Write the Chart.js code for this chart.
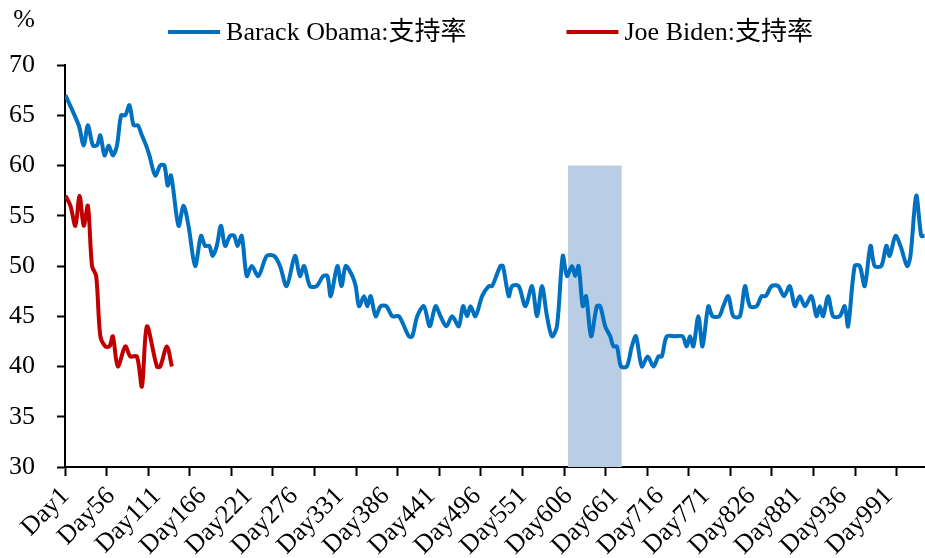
<!DOCTYPE html>
<html>
<head>
<meta charset="utf-8">
<script src="https://cdn.jsdelivr.net/npm/chart.js@4"></script>
<style>
  html, body { margin: 0; padding: 0; background: #fff; }
  #wrap { width: 925px; height: 558px; position: relative; }
</style>
</head>
<body>
<div id="wrap"><canvas id="approvalChart"></canvas></div>
<script>
// days since inauguration + approval (%)
const obamaDays = [1, 17, 23, 28, 34, 39, 43, 48, 53, 58, 63, 68, 73, 78, 83, 88, 93, 98, 102, 109,
  115, 120, 124, 128, 137, 143, 149, 157, 164, 169, 174, 178, 183, 188, 193, 199, 204, 208, 213, 219,
  225, 233, 243, 252, 259, 267, 277, 283, 288, 295, 303, 311, 316, 320, 328, 333, 338, 346, 350, 354,
  360, 364, 368, 374, 380, 387, 394, 402, 414, 418, 424, 432, 439, 446, 452, 459, 466, 474, 479, 484,
  488, 494, 502, 510, 514, 524, 527, 534, 538, 546, 554, 562, 568, 574, 580, 586, 592, 599, 604, 610,
  614, 618, 623, 627, 633, 640, 644, 650, 656, 660, 664, 669, 676, 682, 687, 694, 701, 708, 714, 718,
  724, 734, 743, 748, 752, 756, 762, 767, 774, 779, 787, 792, 798, 804, 812, 818, 824, 832, 838, 843,
  850, 858, 865, 872, 878, 884, 890, 898, 904, 908, 912, 918, 924, 932, 938, 942, 950, 956, 962, 969,
  974, 982, 988, 992, 999, 1005, 1013, 1017, 1024, 1030, 1034];
const obamaValues = [67, 64, 62, 64, 62, 62, 63, 61, 62, 61, 62, 65, 65, 66, 64, 64, 63, 62, 61, 59,
  60, 60, 58, 59, 54, 56, 54, 50, 53, 52, 52, 51, 52, 54, 52, 53, 53, 52, 53, 49,
  50, 49, 51, 51, 50, 48, 51, 49, 50, 48, 48, 49, 49, 47, 50, 48, 50, 49, 48, 46,
  47, 46, 47, 45, 46, 46, 45, 45, 43, 43, 45, 46, 44, 46, 45, 44, 45, 44, 46, 45,
  46, 45, 47, 48, 48, 50, 50, 47, 48, 48, 46, 48, 45, 48, 45, 43, 44, 51, 49, 50,
  49, 50, 46, 47, 43, 46, 46, 44, 43, 42, 42, 40, 40, 42, 43, 40, 41, 40, 41, 41,
  43, 43, 43, 42, 43, 42, 45, 42, 46, 45, 45, 46, 47, 45, 45, 48, 46, 46, 47, 47,
  48, 48, 47, 48, 46, 47, 46, 47, 45, 46, 45, 47, 45, 45, 46, 44, 50, 50, 48, 52,
  50, 50, 52, 51, 53, 52, 50, 51, 57, 53, 53];

const bidenDays = [1, 7, 13, 18, 23, 28, 33, 38, 43, 49, 54, 58, 64, 73, 79, 87, 93, 99, 111, 115, 123, 129];
const bidenValues = [57, 56, 54, 57, 54, 56, 50, 49, 43, 42, 42, 43, 40, 42, 41, 41, 38, 44, 40, 40, 42, 40];

// shaded window
const shadeDays = [605, 670];
const shadeTop = 60;

// axis ticks
const labelDays = [1, 56, 111, 166, 221, 276, 331, 386, 441, 496, 551, 606, 661, 716, 771, 826, 881, 936, 991];
const markDays = [0.5, 50.5, 100.5, 150.5, 200.5, 250.5, 300.5, 350.5, 400.5, 450.5, 500.5,
  550.5, 600.5, 650.5, 700.5, 750.5, 800.5, 850.5, 900.5, 950.5, 1000.5];
const yTicks = [30, 35, 40, 45, 50, 55, 60, 65, 70];

const FONT = '"Liberation Serif", "Times New Roman", "Noto Sans CJK SC", serif';
const FONT_PX = 26;

const toPoints = (days, vals) => days.map((d, i) => ({ x: d, y: vals[i] }));

const topLegend = {
  id: 'topLegend',
  afterDraw(chart) {
    const ctx = chart.ctx;
    const items = chart.data.datasets.filter((d) => d.label);
    ctx.save();
    ctx.font = FONT_PX + 'px ' + FONT;
    ctx.textBaseline = 'middle';
    const lineW = 52, gapText = 6, gapItem = 100;
    const widths = items.map((d) => lineW + gapText + ctx.measureText(d.label).width);
    const total = widths.reduce((a, b) => a + b, 0) + gapItem * (items.length - 1);
    let x = (chart.chartArea.left + chart.chartArea.right) / 2 - 4.5 - total / 2;
    const y = 32;
    items.forEach((d, i) => {
      ctx.strokeStyle = d.borderColor;
      ctx.lineWidth = d.borderWidth;
      ctx.beginPath();
      ctx.moveTo(x, y);
      ctx.lineTo(x + lineW, y);
      ctx.stroke();
      ctx.fillStyle = '#000';
      ctx.textAlign = 'left';
      ctx.fillText(d.label, x + lineW + gapText, y + 1);
      x += widths[i] + gapItem;
    });
    // unit label above y axis
    ctx.textAlign = 'center';
    ctx.fillText('%', 24, 20);
    ctx.restore();
  },
};

const ctx = document.getElementById('approvalChart').getContext('2d');
new Chart(ctx, {
  type: 'line',
  data: {
    datasets: [
      {
        label: 'Barack Obama:支持率',
        data: toPoints(obamaDays, obamaValues),
        borderColor: '#0070C0',
        borderWidth: 4,
        pointRadius: 0,
        tension: 0.3,
        order: 1,
      },
      {
        label: 'Joe Biden:支持率',
        data: toPoints(bidenDays, bidenValues),
        borderColor: '#C00000',
        borderWidth: 4,
        pointRadius: 0,
        tension: 0.3,
        order: 0,
      },
      {
        label: '',
        data: toPoints(shadeDays, [shadeTop, shadeTop]),
        borderWidth: 0,
        borderColor: 'rgba(0,0,0,0)',
        backgroundColor: '#B9CDE5',
        pointRadius: 0,
        fill: 'start',
        order: 5,
      },
    ],
  },
  options: {
    responsive: true,
    maintainAspectRatio: false,
    animation: false,
    layout: { padding: { top: 65, left: 8, right: 0, bottom: 0 } },
    plugins: {
      legend: { display: false },
      tooltip: { enabled: false },
    },
    scales: {
      x: {
        type: 'linear',
        min: 0.5,
        max: 1034.5,
        afterBuildTicks: (axis) => {
          axis.ticks = [...markDays, ...labelDays].sort((a, b) => a - b).map((v) => ({ value: v }));
        },
        afterFit: (axis) => {
          axis.height = 91;
          axis.paddingLeft = 0;
          axis.paddingRight = 0;
        },
        ticks: {
          autoSkip: false,
          minRotation: 45,
          maxRotation: 45,
          padding: 5,
          color: '#000',
          font: { family: FONT, size: FONT_PX },
          callback: (v) => (labelDays.includes(v) ? 'Day' + v : ''),
        },
        grid: {
          drawOnChartArea: false,
          tickLength: 9,
          tickWidth: 2,
          tickColor: (c) => (c.tick && markDays.includes(c.tick.value) ? '#000' : 'rgba(0,0,0,0)'),
        },
        border: { color: '#000', width: 2 },
      },
      y: {
        min: 30,
        max: 70,
        afterBuildTicks: (axis) => {
          axis.ticks = yTicks.map((v) => ({ value: v }));
        },
        afterFit: (axis) => {
          axis.width = 57;
        },
        ticks: {
          padding: 22,
          color: '#000',
          font: { family: FONT, size: FONT_PX },
        },
        grid: {
          drawOnChartArea: false,
          tickLength: 8,
          tickWidth: 2,
          tickColor: '#000',
        },
        border: { color: '#000', width: 2 },
      },
    },
  },
  plugins: [topLegend],
});
</script>
</body>
</html>
